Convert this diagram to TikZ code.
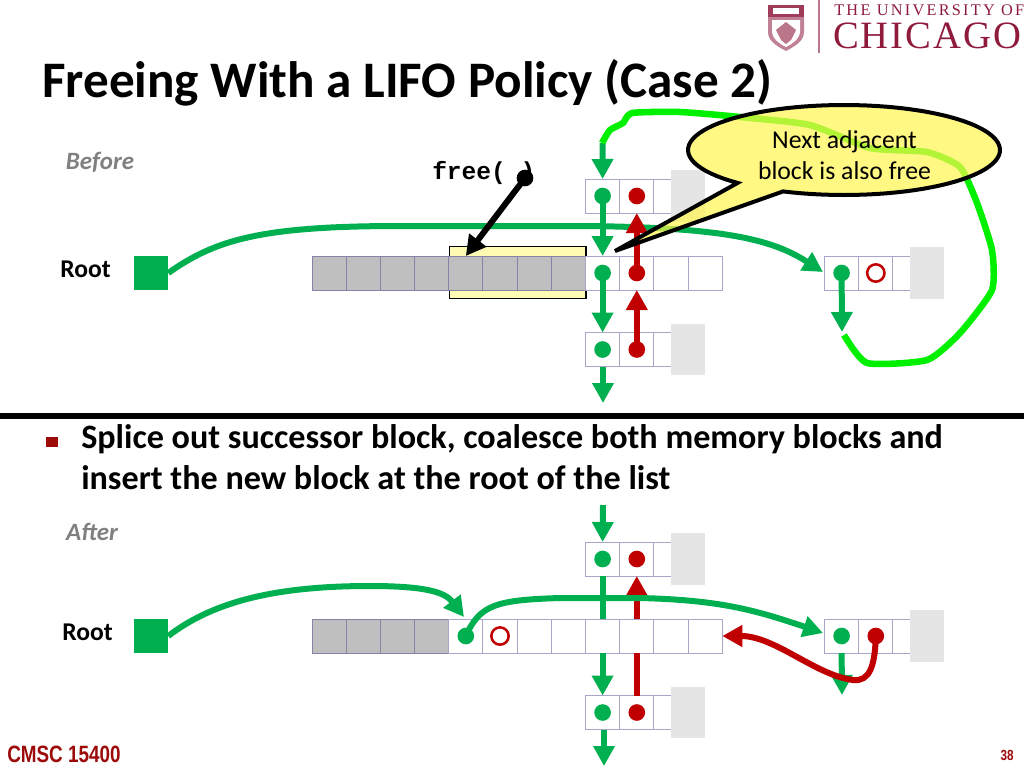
\documentclass[tikz,border=0pt]{standalone}
\usepackage{fontspec}
\setmainfont{Carlito}
\newfontfamily\monof{Liberation Mono}
\newfontfamily\serfa[LetterSpace=14]{Liberation Serif}
\newfontfamily\serfb[LetterSpace=5]{Liberation Serif}
\newfontfamily\narrowf[FakeStretch=0.8]{Liberation Sans}
\usetikzlibrary{arrows.meta}
\definecolor{gr}{HTML}{00B050}
\definecolor{rd}{HTML}{C00000}
\definecolor{lm}{HTML}{00F000}
\definecolor{cellb}{HTML}{A8A6C8}
\definecolor{cellc}{HTML}{8583A8}
\definecolor{maroon}{HTML}{8F1A3C}
\definecolor{deepred}{HTML}{9C0A0A}
\tikzset{
 x=0.75pt,y=-0.75pt,
 cell/.style={draw=cellb,line width=0.7pt,fill=white,minimum width=25.6pt,minimum height=25.5pt,inner sep=0pt,outer sep=0pt},
 gcell/.style={cell,draw=cellc,fill=black!25},
 ghost/.style={fill=black!10,draw=none,minimum width=25.5pt,minimum height=38.5pt,inner sep=0pt},
 dot/.style={circle,minimum size=12.5pt,inner sep=0pt,fill=#1},
 ring/.style={circle,minimum size=13pt,inner sep=0pt,draw=rd,line width=1.9pt,fill=white},
 garrow/.style={draw=gr,line width=4.5pt,-{Triangle[width=15.5pt,length=15pt]}},
 rarrow/.style={draw=rd,line width=4.5pt,-{Triangle[width=15.5pt,length=15pt]}},
 garrowplain/.style={draw=gr,line width=4.5pt},
 rarrowplain/.style={draw=rd,line width=4.5pt},
 lab/.style={font=\fontsize{19.2pt}{22pt}\selectfont\bfseries,inner sep=0pt},
 tag/.style={font=\fontsize{18.7pt}{22pt}\selectfont\bfseries\itshape,text=black!50,inner sep=0pt},
 bodyt/.style={font=\fontsize{25.6pt}{29pt}\selectfont\bfseries,inner sep=0pt,anchor=west},
}
\newcommand{\sblock}[3]{% prefix, y, left x
  \node[cell] (#1a) at (#3+17.1,#2) {};
  \node[cell] (#1b) at (#3+51.3,#2) {};
  \node[cell] (#1c) at (#3+85.5,#2) {};
  \node[ghost] (#1g) at (#3+102.6,#2) {};
}
\begin{document}
\begin{tikzpicture}
\useasboundingbox (0,0) rectangle (1024,768);
\fill[white] (0,0) rectangle (1024,768);

% logo
\node[inner sep=0pt,anchor=west,text=maroon,font=\serfa\fontsize{12.2pt}{14pt}\selectfont] (uni) at (834,10) {THE UNIVERSITY OF};
\node[inner sep=0pt,anchor=west,text=maroon,font=\serfb\fontsize{29pt}{30pt}\selectfont] (chi) at (833,36) {CHICAGO};
\draw[maroon!60,line width=0.8pt] (819,0) -- (819,53);
\fill[maroon!85] (768,5) rectangle (804,17);
\fill[white] (773,8) rectangle (799,14);
\fill[maroon!55] (768,17) -- (804,17) -- (804,32) .. controls (804,42) and (793,47) .. (786,51) .. controls (779,47) and (768,42) .. (768,32) -- cycle;
\fill[white] (772,20) -- (800,20) -- (800,31) .. controls (800,39) and (792,44) .. (786,47) .. controls (780,44) and (772,39) .. (772,31) -- cycle;
\fill[maroon!60] (786,22) -- (796,30) -- (791,40) -- (786,44) -- (781,40) -- (776,30) -- cycle;

% title
\node[inner sep=0pt,anchor=west,font=\fontsize{38.4pt}{44pt}\selectfont\bfseries] (title) at (42,83) {Freeing With a LIFO Policy (Case 2)};

% ---------- BEFORE ----------
\node[tag] (before) at (100,162) {Before};
\node[lab] (root1) at (85.5,269) {Root};
\node[fill=gr,minimum width=25.5pt,minimum height=25.5pt,inner sep=0pt] (sq1) at (151,273) {};

\coordinate (t1) at (602.5,143);
\coordinate (b1) at (603,403);

% root curve
\coordinate (e1) at (823,272);
\draw[garrow] (sq1.east) .. controls (215,240) and (260,226) .. (400,226) -- (590,226) .. controls (720,228) and (770,238) .. (e1);

% yellow highlight
\node[draw=black,line width=0.8pt,fill=yellow!30!white,minimum width=102.7pt,minimum height=38.5pt,inner sep=0pt] (hl) at (517.5,272.5) {};

% main row before
\foreach \i/\xx in {1/329.3,2/363.4,3/397.6,4/431.8,5/465.8,6/500,7/534.2,8/568.4}
  \node[gcell] (m\i) at (\xx,273) {};
\foreach \i/\xx in {9/602.6,10/636.8,11/671,12/705.2}
  \node[cell] (m\i) at (\xx,273) {};

\sblock{u}{196}{585.5}
\sblock{l}{349.5}{585.5}
\sblock{r}{273}{824.5}

\node[dot=gr] (ud) at (ua) {};
\node[dot=rd] (ur) at (ub) {};
\node[dot=gr] (md) at (m9) {};
\node[dot=rd] (mr) at (m10) {};
\node[dot=gr] (ld) at (la) {};
\node[dot=rd] (lr) at (lb) {};
\node[dot=gr] (rd1) at (ra) {};
\node[ring] (rr) at (rb) {};

\draw[garrow] (t1) -- (ua.north);
\draw[garrow] (ud.center) -- (m9.north);
\draw[garrow] (md.center) -- (la.north);
\draw[garrow] (la.south -| b1) -- (b1);
\draw[rarrow] (mr.center) -- (ub.south);
\draw[rarrow] (lr.center) -- (m10.south);
\coordinate (r1t) at (842,332);
\draw[garrow] (rd1.center) -- (r1t);

% free
\node[inner sep=0pt,anchor=west,font=\monof\bfseries\fontsize{18.4pt}{20pt}\selectfont] (free) at (432,173) {free( )};
\node[dot=black] (fd) at (525,178) {};
\draw[draw=black,line width=4.5pt,-{Triangle[width=15.5pt,length=15pt]}] (fd.center) -- (m5.north);

% lime line
\coordinate (lm1) at (602,143);
\coordinate (lm2) at (844,335);

% callout (translucent over the line)
\draw[lm,line width=4.9pt,line join=round] plot[smooth,tension=0.35] coordinates {(lm1) (610,130) (623,123) (632,113) (680,112) (740,117) (810,125) (870,148) (927,152) (960,167) (977,203) (992,250) (992,290) (960,333) (927,360) (867,363) (lm2)};
\path[draw=black,line width=3pt,line join=miter,fill=yellow!70!white,fill opacity=0.7] (615,251) -- plot[domain=113:-227,samples=90] ({844+156*cos(\x)},{150+45*sin(\x)}) -- cycle;
\node[align=center,inner sep=0pt,font=\fontsize{19.3pt}{23pt}\selectfont] (call) at (844.5,155) {Next adjacent\\block is also free};

% divider
\fill[black] (0,413) rectangle (1024,419);

% bullet
\fill[deepred] (46,437) rectangle (58,447);
\node[bodyt] (b1t) at (81,439) {Splice out successor block, coalesce both memory blocks and};
\node[bodyt] (b2t) at (81,477.5) {insert the new block at the root of the list};

% ---------- AFTER ----------
\node[tag] (after) at (92,532) {After};
\node[lab] (root2) at (87.5,632) {Root};
\node[fill=gr,minimum width=25.5pt,minimum height=25.5pt,inner sep=0pt] (sq2) at (151,636) {};

\coordinate (t2) at (603,505);
\coordinate (b2) at (604,766);

\foreach \i/\xx in {1/329.3,2/363.4,3/397.6,4/431.8}
  \node[gcell] (n\i) at (\xx,636) {};
\foreach \i/\xx in {5/465.8,6/500,7/534.2,8/568.4,9/602.6,10/636.8,11/671,12/705.2}
  \node[cell] (n\i) at (\xx,636) {};

\sblock{v}{559}{585.5}
\sblock{w}{712.5}{585.5}
\sblock{s}{636}{824.5}

\node[dot=gr] (vd) at (va) {};
\node[dot=rd] (vr) at (vb) {};
\node[dot=gr] (wd) at (wa) {};
\node[dot=rd] (wr) at (wb) {};
\node[dot=gr] (nd) at (n5) {};
\node[ring] (nr) at (n6) {};
\node[dot=gr] (sd) at (sa) {};
\node[dot=rd] (sr) at (sb) {};

\draw[garrow] (t2) -- (va.north);
\draw[garrowplain] (va.south) -- (n9.north);
\draw[garrow] (n9.south) -- (wa.north);
\draw[garrow] (wa.south -| b2) -- (b2);
\draw[rarrowplain] (wb.north) -- (n10.south);
\draw[rarrow] (n10.north) -- (vb.south);

\coordinate (s1t) at (842,695);
\draw[garrow] (sa.south) -- (s1t);

\draw[garrow] (sq2.east) .. controls (215,600) and (280,586) .. (370,586) .. controls (425,586) and (445,592) .. (464,617);
\draw[garrow] (nd.center) .. controls (480,605) and (495,600) .. (560,598) -- (640,598) .. controls (720,600) and (755,610) .. (823,633);
\draw[rarrow] (sr.center) .. controls (875,665) and (870,682) .. (853,680) .. controls (815,675) and (775,636) .. (n12.east);

% footer
\node[inner sep=0pt,anchor=west,text=deepred,font=\narrowf\bfseries\fontsize{17.7pt}{20pt}\selectfont] (foot) at (7,754) {CMSC 15400};
\node[inner sep=0pt,anchor=east,text=deepred,font=\narrowf\bfseries\fontsize{11pt}{13pt}\selectfont] (pg) at (1014,755) {38};
\end{tikzpicture}
\end{document}
